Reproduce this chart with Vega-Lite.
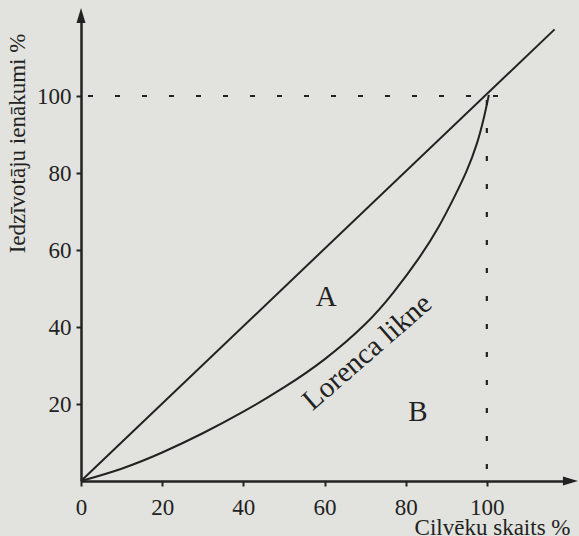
{
  "$schema": "https://vega.github.io/schema/vega-lite/v6.json",
  "width": 487,
  "height": 462,
  "autosize": "none",
  "padding": {"left": 81, "top": 19, "right": 11, "bottom": 55},
  "background": "#e2e2de",
  "config": {"view": {"stroke": null}, "font": "Liberation Serif"},
  "datasets": {
    "equality": [{"x": 0, "y": 0}, {"x": 116.7, "y": 117.3}],
    "lorenz": [
      {"x": 0, "y": 0}, {"x": 10, "y": 3.2}, {"x": 20, "y": 7.4}, {"x": 30, "y": 12.4},
      {"x": 40, "y": 18.0}, {"x": 50, "y": 24.3}, {"x": 60, "y": 31.6}, {"x": 70, "y": 40.7},
      {"x": 77, "y": 49.0}, {"x": 83, "y": 57.5}, {"x": 88, "y": 65.8}, {"x": 92, "y": 73.8},
      {"x": 95, "y": 80.5}, {"x": 97.5, "y": 87.5}, {"x": 99.3, "y": 94.5}, {"x": 100.5, "y": 100.3}
    ],
    "hline": [{"x": 0, "y": 100}, {"x": 103, "y": 100}],
    "vline": [{"x": 100, "y": 0}, {"x": 100, "y": 104.7}],
    "letters": [{"x": 60.4, "y": 47.8, "t": "A"}, {"x": 83, "y": 17.9, "t": "B"}],
    "curveLabel": [{"x": 70.5, "y": 33.5, "t": "Lorenca likne"}],
    "arrows": [{"x": 0, "y": 120.9, "dir": "up"}, {"x": 120.6, "y": 0, "dir": "right"}]
  },
  "layer": [
    {
      "data": {"name": "equality"},
      "mark": {"type": "line", "color": "#222", "strokeWidth": 2},
      "encoding": {
        "x": {
          "field": "x", "type": "quantitative",
          "scale": {"domain": [0, 120], "nice": false},
          "axis": {
            "values": [0, 20, 40, 60, 80, 100], "grid": false,
            "domainColor": "#222", "domainWidth": 2.5,
            "tickColor": "#222", "tickWidth": 2, "tickSize": 5,
            "labelFont": "Liberation Serif", "labelFontSize": 23, "labelColor": "#222",
            "labelPadding": 10, "labelFlush": false, "labelOverlap": false,
            "title": "Cilvēku skaits %", "titleFont": "Liberation Serif", "titleFontSize": 23,
            "titleFontWeight": "normal", "titleColor": "#222",
            "titleX": 489, "titleY": 53, "titleAlign": "right", "titleBaseline": "alphabetic"
          }
        },
        "y": {
          "field": "y", "type": "quantitative",
          "scale": {"domain": [0, 120], "nice": false},
          "axis": {
            "values": [20, 40, 60, 80, 100], "grid": false,
            "domainColor": "#222", "domainWidth": 2.5,
            "tickColor": "#222", "tickWidth": 2, "tickSize": 5,
            "labelFont": "Liberation Serif", "labelFontSize": 23, "labelColor": "#222",
            "labelPadding": 5, "labelOverlap": false, "labelFlush": false,
            "title": "Iedzīvotāju ienākumi %", "titleFont": "Liberation Serif", "titleFontSize": 23,
            "titleFontWeight": "normal", "titleColor": "#222",
            "titleX": -64, "titleY": 124, "titleAngle": 270, "titleAlign": "center", "titleBaseline": "middle"
          }
        }
      }
    },
    {
      "data": {"name": "lorenz"},
      "mark": {"type": "line", "color": "#222", "strokeWidth": 2, "interpolate": "natural"},
      "encoding": {
        "x": {"field": "x", "type": "quantitative"},
        "y": {"field": "y", "type": "quantitative"}
      }
    },
    {
      "data": {"name": "hline"},
      "mark": {"type": "line", "color": "#222", "strokeWidth": 2, "strokeDash": [5, 22], "strokeDashOffset": 20},
      "encoding": {
        "x": {"field": "x", "type": "quantitative"},
        "y": {"field": "y", "type": "quantitative"}
      }
    },
    {
      "data": {"name": "vline"},
      "mark": {"type": "line", "color": "#222", "strokeWidth": 2.2, "strokeDash": [5, 23], "strokeDashOffset": 16},
      "encoding": {
        "x": {"field": "x", "type": "quantitative"},
        "y": {"field": "y", "type": "quantitative"}
      }
    },
    {
      "data": {"name": "arrows"},
      "mark": {"type": "point", "filled": true, "color": "#222", "opacity": 1, "size": 225},
      "encoding": {
        "x": {"field": "x", "type": "quantitative"},
        "y": {"field": "y", "type": "quantitative"},
        "shape": {
          "field": "dir", "type": "nominal",
          "scale": {"domain": ["up", "right"], "range": ["M-0.6,1L0,-1L0.6,1Z", "M-1,-0.6L1,0L-1,0.6Z"]},
          "legend": null
        }
      }
    },
    {
      "data": {"name": "letters"},
      "mark": {"type": "text", "font": "Liberation Serif", "fontSize": 29, "color": "#222", "align": "center", "baseline": "middle"},
      "encoding": {
        "x": {"field": "x", "type": "quantitative"},
        "y": {"field": "y", "type": "quantitative"},
        "text": {"field": "t"}
      }
    },
    {
      "data": {"name": "curveLabel"},
      "mark": {"type": "text", "font": "Liberation Serif", "fontSize": 29, "color": "#222", "align": "center", "baseline": "middle", "angle": 319},
      "encoding": {
        "x": {"field": "x", "type": "quantitative"},
        "y": {"field": "y", "type": "quantitative"},
        "text": {"field": "t"}
      }
    }
  ]
}
